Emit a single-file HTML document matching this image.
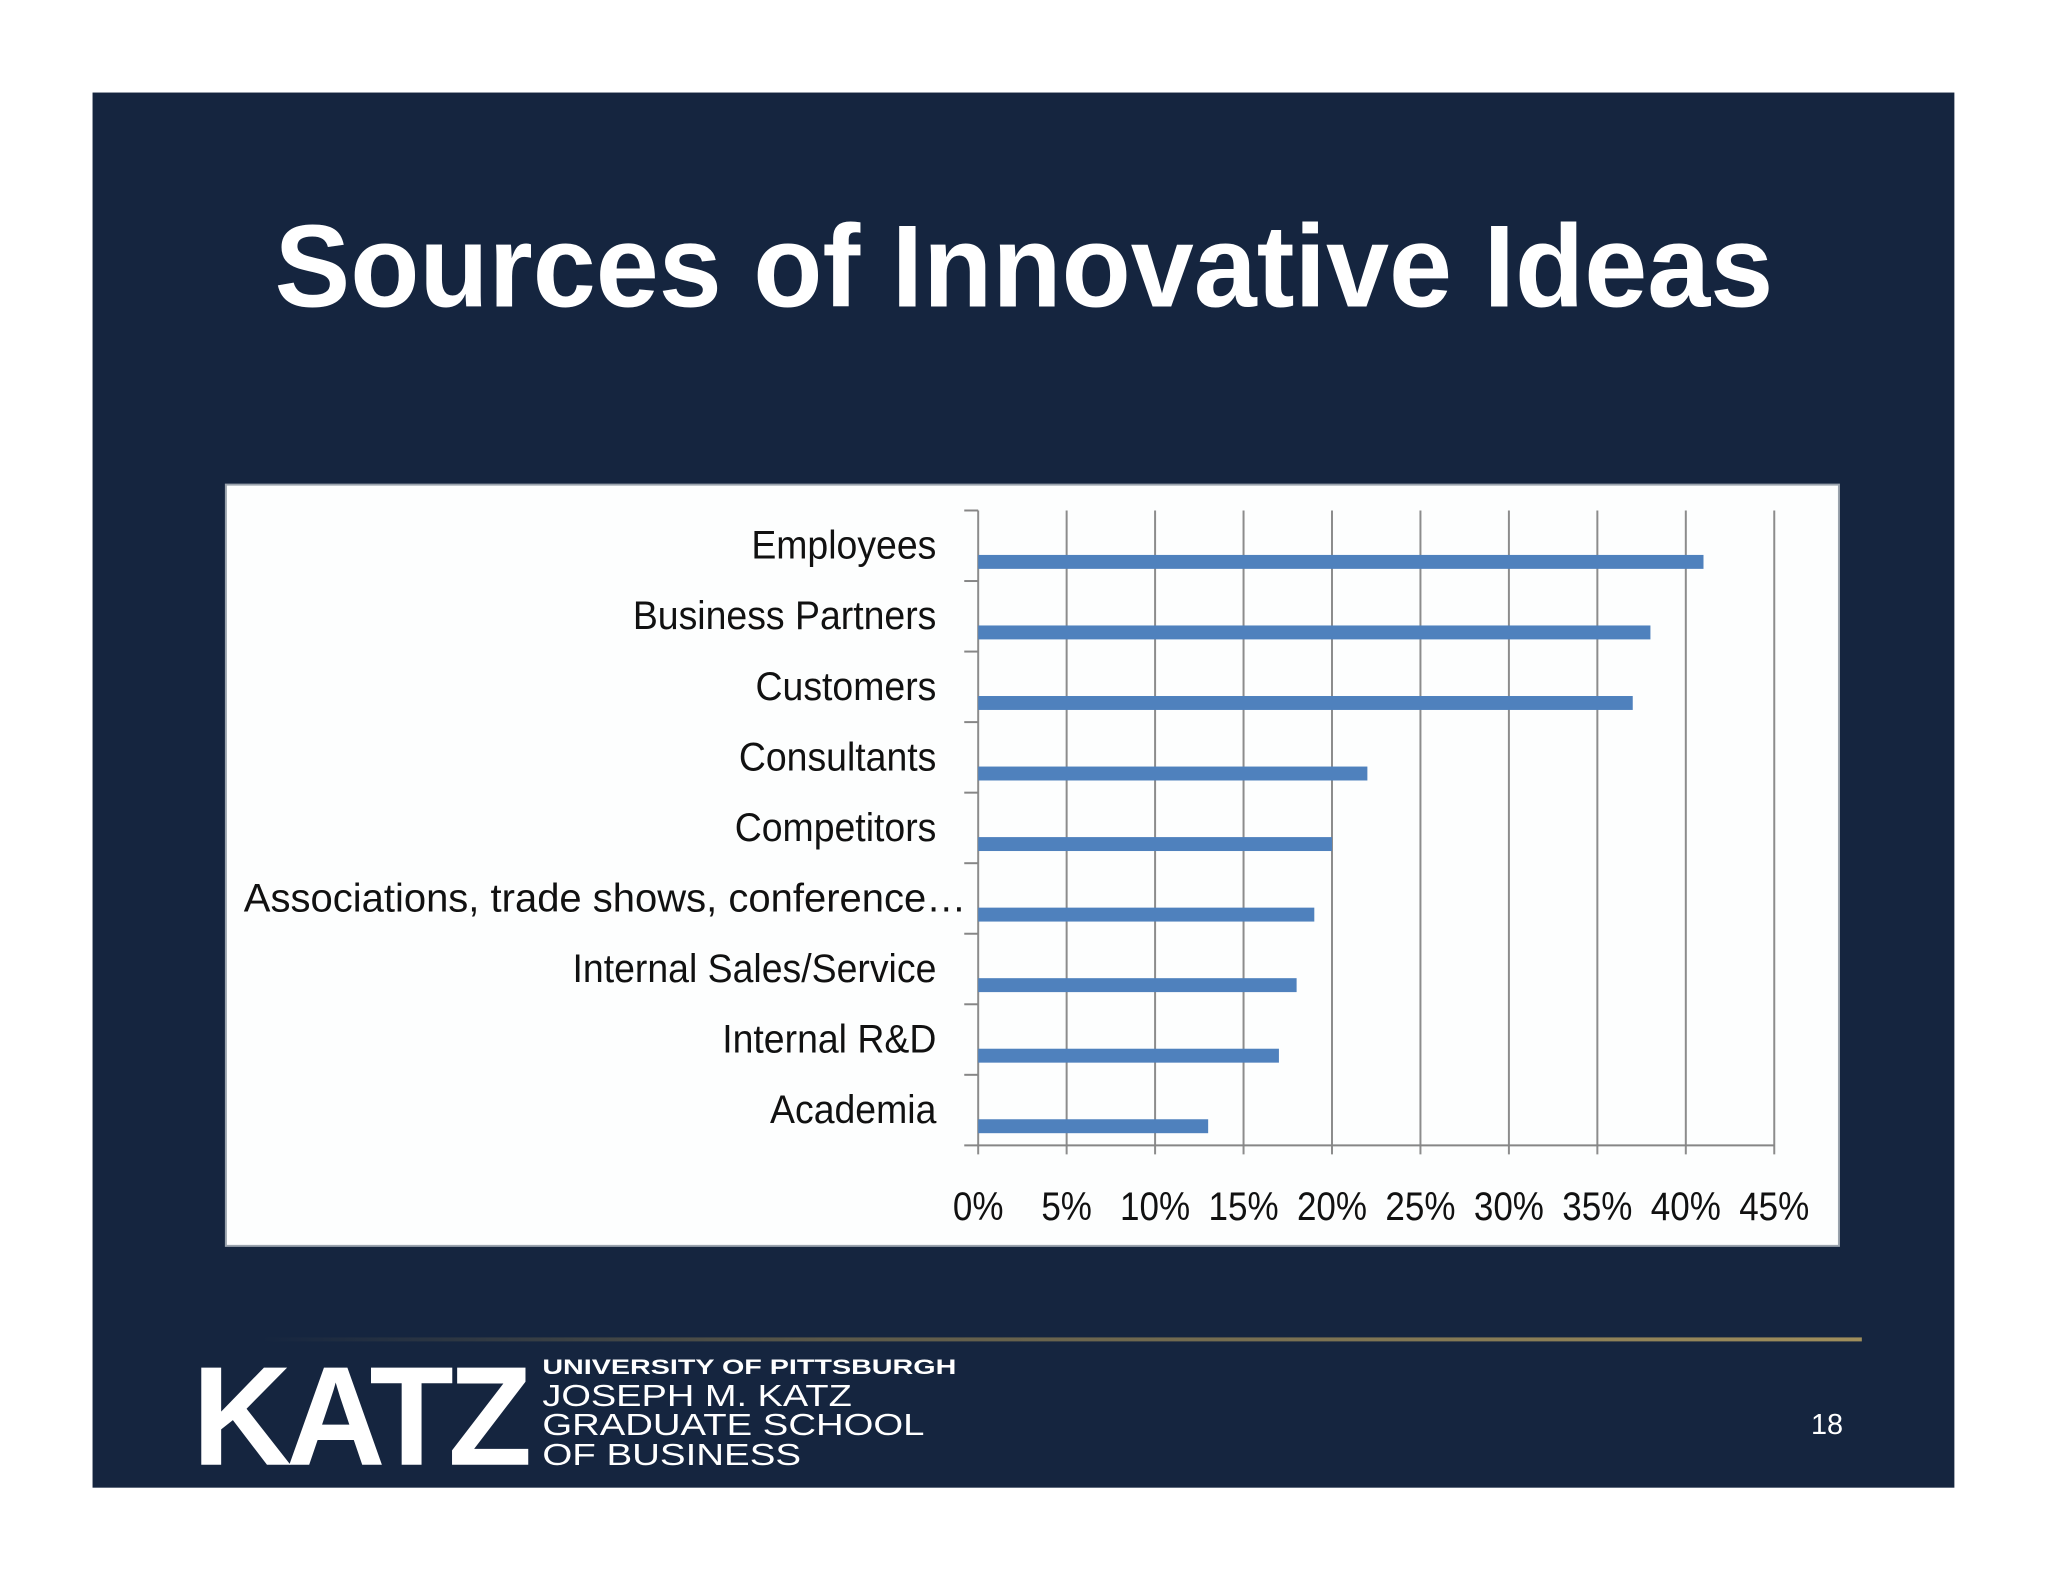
<!DOCTYPE html>
<html><head><meta charset="utf-8">
<style>
html,body{margin:0;padding:0;background:#fff;}
svg{display:block;}
text{font-family:"Liberation Sans",sans-serif;}
</style></head>
<body>
<svg id="slide" width="2048" height="1582" viewBox="0 0 2048 1582" xmlns="http://www.w3.org/2000/svg">
  <defs>
    <linearGradient id="goldline" x1="0" x2="1" y1="0" y2="0">
      <stop offset="0" stop-color="#15253f"/>
      <stop offset="0.35" stop-color="#5a5849"/>
      <stop offset="1" stop-color="#a08f5c"/>
    </linearGradient>
  </defs>
  <g transform="scale(0.9951)">
  <rect x="93" y="93" width="1871" height="1402" fill="#15253f"/>
  <text x="1029" y="308" text-anchor="middle" font-size="118" font-weight="bold" fill="#ffffff" textLength="1506" lengthAdjust="spacingAndGlyphs">Sources of Innovative Ideas</text>

  <rect x="227" y="487" width="1621" height="765" fill="#fdfefe" stroke="#9aa3ad" stroke-width="2"/>
  <g id="grid"></g>
  <g id="bars"></g>
  <g id="ylabels"></g>
  <g id="xlabels"></g>

  <rect x="263" y="1344" width="1608" height="4" fill="url(#goldline)"/>
  <text x="193" y="1472" font-size="142" font-weight="bold" fill="#ffffff" textLength="336" lengthAdjust="spacingAndGlyphs" letter-spacing="-6">KATZ</text>
  <text x="545" y="1381" font-size="21" font-weight="bold" fill="#ffffff" textLength="416" lengthAdjust="spacingAndGlyphs">UNIVERSITY OF PITTSBURGH</text>
  <text x="545" y="1413" font-size="31" fill="#ffffff" textLength="311" lengthAdjust="spacingAndGlyphs">JOSEPH M. KATZ</text>
  <text x="545" y="1442" font-size="31" fill="#ffffff" textLength="384" lengthAdjust="spacingAndGlyphs">GRADUATE SCHOOL</text>
  <text x="545" y="1472" font-size="31" fill="#ffffff" textLength="260" lengthAdjust="spacingAndGlyphs">OF BUSINESS</text>
  <text x="1836" y="1441" text-anchor="middle" font-size="29" fill="#ffffff">18</text>
  </g>
</svg>
<script>
const categories = ["Employees","Business Partners","Customers","Consultants","Competitors","Associations, trade shows, conference…","Internal Sales/Service","Internal R&D","Academia"];
const values = [41,38,37,22,20,19,18,17,13];
const tickValues = [0,5,10,15,20,25,30,35,40,45];
const tickLabels = ["0%","5%","10%","15%","20%","25%","30%","35%","40%","45%"];

const NS = "http://www.w3.org/2000/svg";
const X0 = 983, X1 = 1783, XMAX = 45;
const Y0 = 513, Y1 = 1151;
const band = (Y1 - Y0) / categories.length;
function xs(v){ return X0 + (v / XMAX) * (X1 - X0); }
function yb(i){ return Y0 + i * band; }
function mk(tag, attrs){ const e = document.createElementNS(NS, tag); for (const k in attrs) e.setAttribute(k, attrs[k]); return e; }

const grid = document.getElementById('grid');
tickValues.forEach((t, i) => {
  const l = mk('line', {x1: xs(t), x2: xs(t), y1: Y0, y2: Y1 + 9, stroke: '#8c8c8c', 'stroke-width': 2});
  
  
  grid.appendChild(l);
});
const xaxis = mk('line', {x1: X0 - 14, x2: X1, y1: Y1, y2: Y1, stroke: '#868686', 'stroke-width': 2});


grid.appendChild(xaxis);
for (let i = 0; i < categories.length; i++) {
  const tk = mk('line', {x1: X0 - 14, x2: X0, y1: yb(i), y2: yb(i), stroke: '#868686', 'stroke-width': 2});
  
  
  grid.appendChild(tk);
}

const bars = document.getElementById('bars');
values.forEach((v, i) => {
  const r = mk('rect', {x: X0, y: yb(i) + band * 0.63, width: xs(v) - X0, height: 14, fill: '#4f81bd'});
  
  
  bars.appendChild(r);
});

const yl = document.getElementById('ylabels');
categories.forEach((c, i) => {
  const long = c.length > 30;
  const t = mk('text', {x: long ? 971 : 941, y: yb(i) + band * 0.5 + 13, 'text-anchor': 'end', 'font-size': 40, fill: '#111'});
  t.textContent = c;
  
  
  yl.appendChild(t);
  const w = t.getComputedTextLength();
  t.setAttribute('textLength', long ? 726 : w * 0.94);
  t.setAttribute('lengthAdjust', 'spacingAndGlyphs');
});

const xl = document.getElementById('xlabels');
tickValues.forEach((tv, i) => {
  const t = mk('text', {x: xs(tv), y: 1226, 'text-anchor': 'middle', 'font-size': 40, fill: '#111'});
  t.textContent = tickLabels[i];
  
  
  xl.appendChild(t);
  const w = t.getComputedTextLength();
  t.setAttribute('textLength', w * 0.88);
  t.setAttribute('lengthAdjust', 'spacingAndGlyphs');
});
</script>
</body></html>
